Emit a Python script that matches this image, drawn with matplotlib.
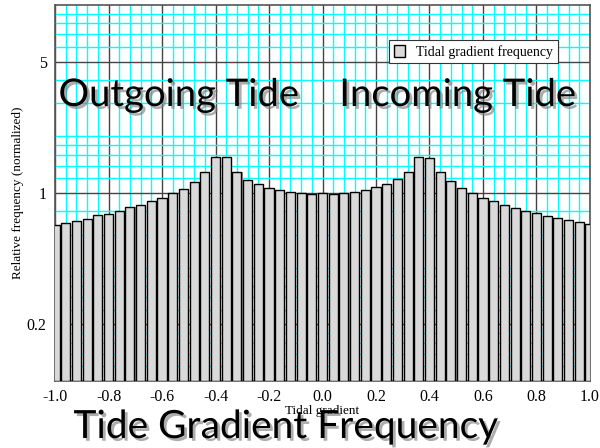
import numpy as np
import matplotlib
matplotlib.use("Agg")
import matplotlib.pyplot as plt
import matplotlib.patheffects as pe
from matplotlib.ticker import FixedLocator, NullFormatter

plt.rcParams['axes.unicode_minus'] = False

# tidal gradient bin centres and normalized frequency
gradient = np.round(np.arange(-1.0, 1.0001, 0.04), 2)
freq = [0.677, 0.691, 0.708, 0.729, 0.762, 0.777, 0.803, 0.840, 0.864, 0.904,
        0.941, 1.004, 1.046, 1.139, 1.287, 1.556, 1.556, 1.297, 1.176, 1.120,
        1.058, 1.033, 1.016, 1.000, 0.990, 1.000, 0.990, 1.000, 1.016, 1.036,
        1.072, 1.120, 1.180, 1.297, 1.550, 1.540, 1.287, 1.153, 1.058, 1.000,
        0.941, 0.904, 0.864, 0.830, 0.803, 0.780, 0.755, 0.737, 0.717, 0.700,
        0.683]
xticks = [-1.0, -0.8, -0.6, -0.4, -0.2, 0.0, 0.2, 0.4, 0.6, 0.8, 1.0]
yticks = [0.2, 1, 5]
yticklabels = ['0.2', '1', '5']
yminor = [0.12, 0.14, 0.16, 0.18, 0.24, 0.28, 0.32, 0.36, 0.4, 0.6, 0.8,
          1.2, 1.4, 1.6, 1.8, 2, 3, 4, 6, 7, 8, 9]

serif = 'Liberation Serif'
sans = 'Lato'

fig = plt.figure(figsize=(6, 4.48), dpi=100)
ax = fig.add_axes([0.0917, 0.1496, 0.8916, 0.8392])

base = 0.1
heights = np.array(freq) - base
# shadow strip on the right of each bar
ax.bar(gradient + 0.004, heights, width=0.034, bottom=base,
       color='#9a9a9a', edgecolor='none', zorder=2)
ax.bar(gradient, heights, width=0.034, bottom=base, color='#d9d9d9',
       edgecolor='black', linewidth=1.0, zorder=3,
       label='Tidal gradient frequency')

ax.set_yscale('log')
ax.set_xlim(-1.0, 1.0)
ax.set_ylim(0.1, 10)

ax.set_xticks(xticks)
ax.set_xticklabels(['%.1f' % t for t in xticks], family=serif, fontsize=11.5)
ax.xaxis.set_minor_locator(FixedLocator(np.arange(-1.0, 1.0001, 0.04)))
ax.set_yticks(yticks)
ax.set_yticklabels(yticklabels, family=serif, fontsize=11.5)
ax.yaxis.set_minor_locator(FixedLocator(yminor))
ax.yaxis.set_minor_formatter(NullFormatter())
ax.tick_params(which='both', length=0, pad=6)

ax.set_axisbelow(True)
ax.grid(which='minor', color='#00ffff', linewidth=1.0, zorder=0)
ax.grid(which='major', color='#444444', linewidth=1.0, zorder=1)
for s in ax.spines.values():
    s.set_color('#555555')
    s.set_linewidth(1.2)

ax.set_xlabel('Tidal gradient', family=serif, fontsize=9.5, labelpad=0)
fig.text(18 / 600, 1 - 193 / 448, 'Relative frequency (normalized)',
         family=serif, fontsize=9.5, rotation=90, ha='center', va='center')

leg = ax.legend(loc='upper right', bbox_to_anchor=(0.953, 0.926),
                prop={'family': serif, 'size': 10}, fancybox=False,
                framealpha=1, edgecolor='#333333', handlelength=0.8,
                handleheight=1.0, borderpad=0.35)
leg.get_frame().set_linewidth(0.8)

shadow = [pe.withSimplePatchShadow(offset=(2, -2), shadow_rgbFace='#777777',
                                   alpha=0.6)]
fig.text(179 / 600, 1 - 106 / 448, 'Outgoing Tide', family=sans, fontsize=27.5,
         ha='center', va='baseline', path_effects=shadow)
fig.text(458 / 600, 1 - 106 / 448, 'Incoming Tide', family=sans, fontsize=27.5,
         ha='center', va='baseline', path_effects=shadow)
fig.text(286 / 600, 1 - 438 / 448, 'Tide Gradient Frequency', family=sans,
         fontsize=28, ha='center', va='baseline', path_effects=shadow)

fig.savefig('out.png', dpi=100)
